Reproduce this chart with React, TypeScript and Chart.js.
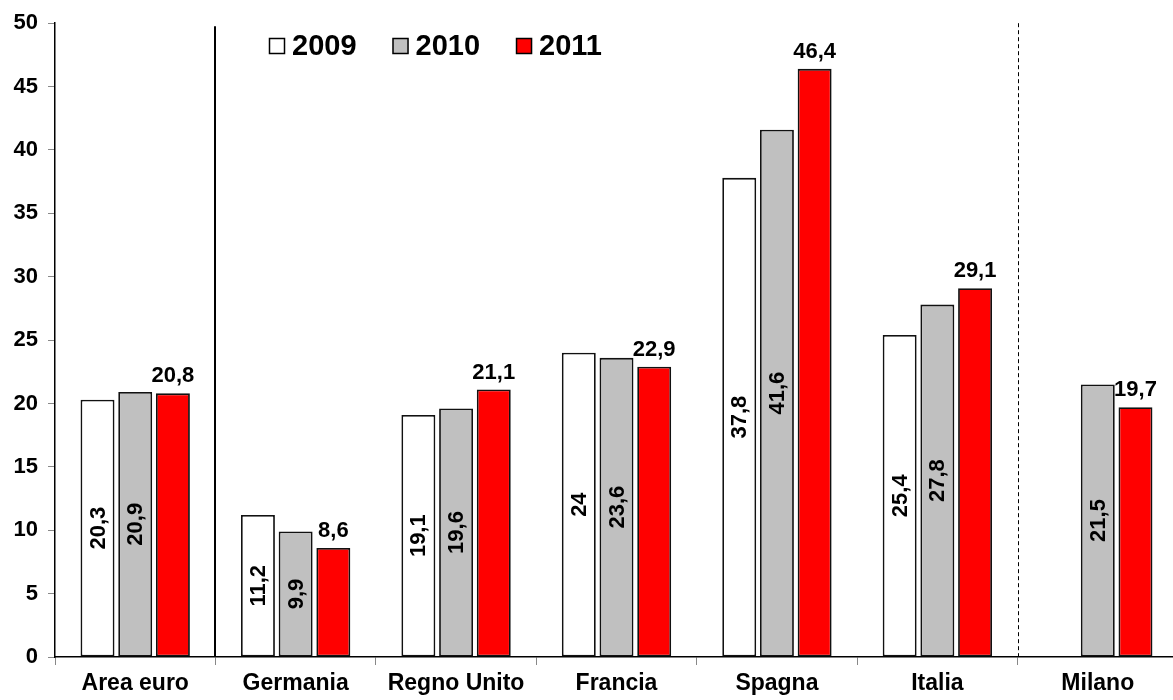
import React, { useEffect, useRef } from "react";
import { Chart, registerables } from "chart.js";

Chart.register(...registerables);

const categories = ["Area euro", "Germania", "Regno Unito", "Francia", "Spagna", "Italia", "Milano"];
const years = ["2009", "2010", "2011"];
const values2009: (number | null)[] = [20.3, 11.2, 19.1, 24, 37.8, 25.4, null];
const values2010: (number | null)[] = [20.9, 9.9, 19.6, 23.6, 41.6, 27.8, 21.5];
const values2011: (number | null)[] = [20.8, 8.6, 21.1, 22.9, 46.4, 29.1, 19.7];
const yTicks = [0, 5, 10, 15, 20, 25, 30, 35, 40, 45, 50];

const fills = ["#ffffff", "#c0c0c0", "#ff0000"];
const FONT = "'Liberation Sans', Arial, sans-serif";

const fmt = (v: number) => String(v).replace(".", ",");

// Value labels: rotated inside the 2009/2010 bars, horizontal above the 2011 bars
const valueLabels = {
  id: "valueLabels",
  afterDatasetsDraw(chart: any) {
    const ctx = chart.ctx;
    ctx.save();
    ctx.fillStyle = "#000";
    chart.data.datasets.forEach((ds: any, di: number) => {
      const meta = chart.getDatasetMeta(di);
      meta.data.forEach((bar: any, i: number) => {
        const v = ds.data[i];
        if (v == null) return;
        const txt = fmt(v);
        ctx.font = `bold 22px ${FONT}`;
        ctx.textAlign = "center";
        if (di < 2) {
          const cy = (bar.y + bar.base) / 2;
          ctx.save();
          ctx.translate(bar.x, cy);
          ctx.rotate(-Math.PI / 2);
          ctx.textBaseline = "middle";
          ctx.fillText(txt, 0, 1);
          ctx.restore();
        } else {
          ctx.textBaseline = "alphabetic";
          ctx.fillText(txt, bar.x, bar.y - 11);
        }
      });
    });
    ctx.restore();
  },
};

// Vertical separators: solid after the euro area, dashed before Milano
const separators = {
  id: "separators",
  afterDatasetsDraw(chart: any) {
    const ctx = chart.ctx;
    const x = chart.scales.x;
    const area = chart.chartArea;
    const mid = (a: number, b: number) => (x.getPixelForValue(a) + x.getPixelForValue(b)) / 2;
    ctx.save();
    ctx.strokeStyle = "#000";
    ctx.lineWidth = 2;
    ctx.beginPath();
    const x1 = Math.round(mid(0, 1));
    ctx.moveTo(x1, area.top + 3);
    ctx.lineTo(x1, area.bottom);
    ctx.stroke();
    ctx.lineWidth = 1;
    ctx.setLineDash([4, 3]);
    ctx.beginPath();
    const x2 = Math.round(mid(5, 6)) + 0.5;
    ctx.moveTo(x2, area.top);
    ctx.lineTo(x2, area.bottom);
    ctx.stroke();
    ctx.restore();
  },
};

// Legend row drawn inside the plot area
const legendRow = {
  id: "legendRow",
  afterDraw(chart: any) {
    const ctx = chart.ctx;
    ctx.save();
    ctx.font = `bold 29px ${FONT}`;
    ctx.textBaseline = "middle";
    ctx.textAlign = "left";
    let x = 269;
    const cy = 46;
    const box = 16;
    chart.data.datasets.forEach((ds: any) => {
      ctx.fillStyle = ds.backgroundColor;
      ctx.fillRect(x, cy - box / 2, box, box);
      ctx.strokeStyle = "#000";
      ctx.lineWidth = 1.5;
      ctx.strokeRect(x + 0.5, cy - box / 2 + 0.5, box - 1, box - 1);
      ctx.fillStyle = "#000";
      ctx.fillText(ds.label, x + box + 7, cy + 1);
      x += box + 7 + ctx.measureText(ds.label).width + 36;
    });
    ctx.restore();
  },
};

export default function App() {
  const ref = useRef<HTMLCanvasElement>(null);

  useEffect(() => {
    if (!ref.current) return;
    const series = [values2009, values2010, values2011];
    const chart = new Chart(ref.current, {
      type: "bar",
      data: {
        labels: categories,
        datasets: years.map((y, i) => ({
          label: y,
          data: series[i],
          backgroundColor: fills[i],
          borderColor: "#111",
          borderWidth: 1.8,
          borderSkipped: false,
          categoryPercentage: 0.705,
          barPercentage: 0.9,
        })),
      },
      options: {
        responsive: false,
        animation: false,
        devicePixelRatio: 1,
        layout: { padding: { top: 18, right: 0, bottom: 0, left: 0 } },
        plugins: {
          legend: { display: false },
          tooltip: { enabled: false },
        },
        scales: {
          x: {
            grid: {
              display: true,
              drawOnChartArea: false,
              drawTicks: true,
              tickLength: 8,
              color: "#888",
              offset: true,
            },
            border: { color: "#000", width: 1.5 },
            ticks: {
              color: "#000",
              font: { family: FONT, size: 23, weight: "bold" },
              padding: 5,
              maxRotation: 0,
              autoSkip: false,
            },
            afterFit(scale: any) {
              scale.height = 43;
            },
          },
          y: {
            min: 0,
            max: 50,
            afterBuildTicks(scale: any) {
              scale.ticks = yTicks.map((v) => ({ value: v }));
            },
            grid: {
              display: true,
              drawOnChartArea: false,
              drawTicks: true,
              tickLength: 7,
              color: "#888",
            },
            border: { color: "#000", width: 1.5 },
            ticks: {
              color: "#000",
              font: { family: FONT, size: 22, weight: "bold" },
              padding: 10,
            },
            afterFit(scale: any) {
              scale.width = 55;
            },
          },
        },
      },
      plugins: [separators, valueLabels, legendRow],
    });
    return () => chart.destroy();
  }, []);

  return (
    <div
      style={{
        position: "fixed",
        left: 0,
        top: 0,
        width: 1173,
        height: 700,
        overflow: "hidden",
        background: "#fff",
      }}
    >
      <canvas ref={ref} width={1178} height={700} style={{ display: "block", width: 1178, height: 700 }} />
    </div>
  );
}
